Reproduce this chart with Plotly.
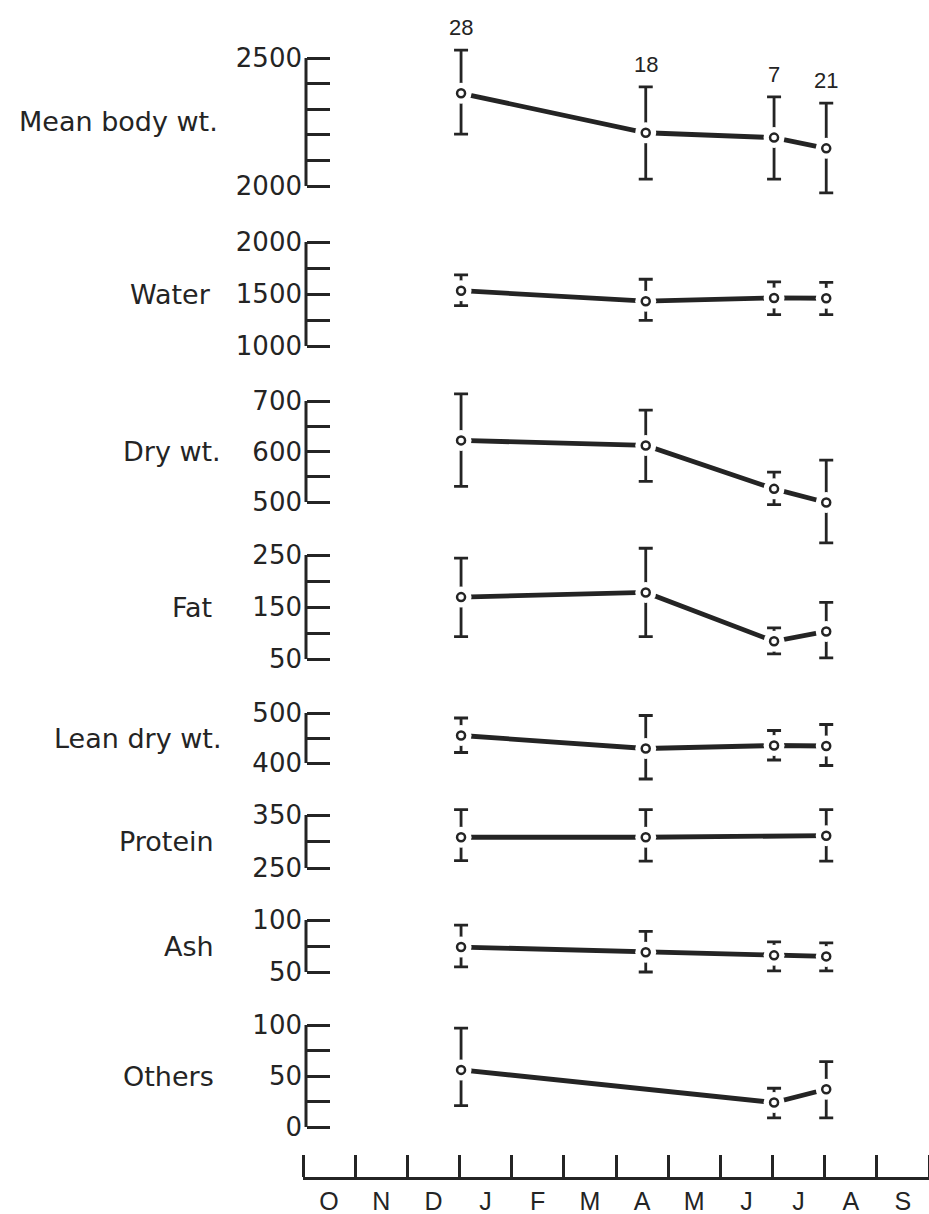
import plotly.graph_objects as go

# ---------------- data ----------------
months = ['O', 'N', 'D', 'J', 'F', 'M', 'A', 'M', 'J', 'J', 'A', 'S']
sample_x = [3.03, 6.57, 9.03, 10.03]          # months since 1 October
sample_n = [28, 18, 7, 21]

panel_names = ['Mean body wt.', 'Water', 'Dry wt.', 'Fat',
               'Lean dry wt.', 'Protein', 'Ash', 'Others']

body_mean = [2362, 2208, 2189, 2147]
body_hi = [2531, 2387, 2348, 2324]
body_lo = [2203, 2027, 2027, 1973]

water_mean = [1532, 1431, 1462, 1459]
water_hi = [1684, 1642, 1617, 1611]
water_lo = [1389, 1247, 1301, 1301]

dry_mean = [622, 612, 526, 499]
dry_hi = [714, 682, 559, 583]
dry_lo = [531, 541, 495, 419]

fat_mean = [169, 178, 84, 103]
fat_hi = [244, 263, 110, 159]
fat_lo = [93, 93, 60, 52]

lean_mean = [455, 429, 435, 434]
lean_hi = [490, 495, 465, 477]
lean_lo = [421, 368, 406, 395]

protein_mean = [308, 308, None, 311]
protein_hi = [360, 360, None, 360]
protein_lo = [264, 263, None, 263]

ash_mean = [74, 69, 66, 65]
ash_hi = [95, 89, 79, 78]
ash_lo = [55, 50, 51, 51]

others_mean = [56, None, 24, 37]
others_hi = [97, None, 38, 64]
others_lo = [21, None, 9, 9]

means = [body_mean, water_mean, dry_mean, fat_mean, lean_mean, protein_mean, ash_mean, others_mean]
highs = [body_hi, water_hi, dry_hi, fat_hi, lean_hi, protein_hi, ash_hi, others_hi]
lows = [body_lo, water_lo, dry_lo, fat_lo, lean_lo, protein_lo, ash_lo, others_lo]

# axis scales
axis_lo = [2000, 1000, 500, 50, 400, 250, 50, 0]
axis_hi = [2500, 2000, 700, 250, 500, 350, 100, 100]
tick_step = [100, 250, 50, 50, 50, 50, 25, 25]
labeled_ticks = [[2000, 2500], [1000, 1500, 2000], [500, 600, 700], [50, 150, 250],
                 [400, 500], [250, 350], [50, 100], [0, 50, 100]]
label_mid = [2250, 1500, 600, 150, 450, 300, 75, 50]

# ---------------- layout geometry (pixels) ----------------
W, H = 929, 1214
ML, MB = 303, 36
PW, PH = W - ML, H - MB
px_lo = [186, 346, 502, 659, 763, 868, 972, 1127]
px_hi = [58, 242, 401, 555, 713, 815, 920, 1025]
name_right_px = [220, 213, 223, 214, 223, 216, 216, 216]
PAD = 50
AXIS_POS = 3 / PW
INK = '#242424'
WIDE_FONT = 'DejaVu Sans'
NARROW_FONT = 'Liberation Sans'
N = 8

fig = go.Figure()
shapes = []
annotations = []
layout_axes = {}

for i in range(N):
    yname = 'y' if i == 0 else f'y{i + 1}'
    lname = 'yaxis' if i == 0 else f'yaxis{i + 1}'
    oname = f'y{i + 1 + N}'            # overlay axis holding the markers (drawn on top)
    olname = f'yaxis{i + 1 + N}'
    lo, hi = axis_lo[i], axis_hi[i]
    u = (hi - lo) / (px_lo[i] - px_hi[i])
    rng = [lo - PAD * u, hi + PAD * u]
    dom = [max(0, (PH - (px_lo[i] + PAD)) / PH), min(1, (PH - (px_hi[i] - PAD)) / PH)]
    # keep the mapping exact if the domain was trimmed
    top_px = PH - dom[1] * PH
    bot_px = PH - dom[0] * PH
    rng = [lo - (bot_px - px_lo[i]) * u, hi + (px_hi[i] - top_px) * u]

    m = means[i]
    plus = [None if v is None else h - v for v, h in zip(m, highs[i])]
    minus = [None if v is None else v - l for v, l in zip(m, lows[i])]

    # line + error bars (base layer)
    fig.add_trace(go.Scatter(
        x=sample_x, y=m, xaxis='x', yaxis=yname, mode='lines', connectgaps=True,
        line=dict(color=INK, width=4.8),
        error_y=dict(type='data', symmetric=False, array=plus, arrayminus=minus,
                     color=INK, thickness=2.8, width=7),
        showlegend=False, hoverinfo='skip'))
    # white halo opening gaps around the points (overlay layer)
    fig.add_trace(go.Scatter(
        x=sample_x, y=m, xaxis='x', yaxis=oname, mode='markers',
        marker=dict(size=21, color='white', line=dict(width=0)),
        showlegend=False, hoverinfo='skip'))
    # open circles (overlay layer)
    fig.add_trace(go.Scatter(
        x=sample_x, y=m, xaxis='x', yaxis=oname, mode='markers',
        marker=dict(size=8, color='white', line=dict(color=INK, width=2.5)),
        showlegend=False))

    ticks = list(range(lo, hi + 1, tick_step[i]))
    layout_axes[lname] = dict(
        domain=dom, range=rng, anchor='free', position=AXIS_POS, automargin=False,
        showline=False, showgrid=False, zeroline=False,
        tickmode='array', tickvals=ticks,
        ticktext=[str(t) if t in labeled_ticks[i] else '' for t in ticks],
        ticks='inside', ticklen=23, tickwidth=3, tickcolor=INK,
        ticklabelstandoff=4,
        tickfont=dict(family=WIDE_FONT, size=26, color=INK))
    layout_axes[olname] = dict(
        overlaying=yname, range=rng, anchor='free', position=AXIS_POS,
        automargin=False, visible=False, showgrid=False, zeroline=False)

    shapes.append(dict(type='line', xref='paper', yref=yname,
                       x0=AXIS_POS, x1=AXIS_POS, y0=lo, y1=hi,
                       line=dict(color=INK, width=3)))

    annotations.append(dict(
        xref='paper', yref=yname, x=(name_right_px[i] - ML) / PW, y=label_mid[i],
        xanchor='right', yanchor='middle', text=panel_names[i], showarrow=False,
        font=dict(family=WIDE_FONT, size=27, color=INK)))

for xv, yv, n in zip(sample_x, body_hi, sample_n):
    annotations.append(dict(
        xref='x', yref='y', x=xv, y=yv, xanchor='center', yanchor='bottom',
        yshift=8, text=str(n), showarrow=False,
        font=dict(family=NARROW_FONT, size=22, color=INK)))

fig.update_layout(
    template='none',
    width=W, height=H,
    margin=dict(l=ML, r=0, t=0, b=MB, pad=0, autoexpand=False),
    paper_bgcolor='white', plot_bgcolor='rgba(0,0,0,0)',
    showlegend=False,
    xaxis=dict(
        domain=[0, 1], range=[0, 12], anchor='free', position=0, automargin=False,
        showline=True, linewidth=3, linecolor=INK,
        showgrid=False, zeroline=False,
        tickmode='array', tickvals=[k + 0.5 for k in range(12)], ticktext=months,
        ticks='', ticklabelstandoff=0,
        tickfont=dict(family=NARROW_FONT, size=25, color=INK),
        minor=dict(tickmode='array', tickvals=list(range(13)), ticks='inside',
                   ticklen=22, tickwidth=3, tickcolor=INK, showgrid=False)),
    shapes=shapes,
    annotations=annotations,
    **layout_axes)

fig.write_html('out.html')
